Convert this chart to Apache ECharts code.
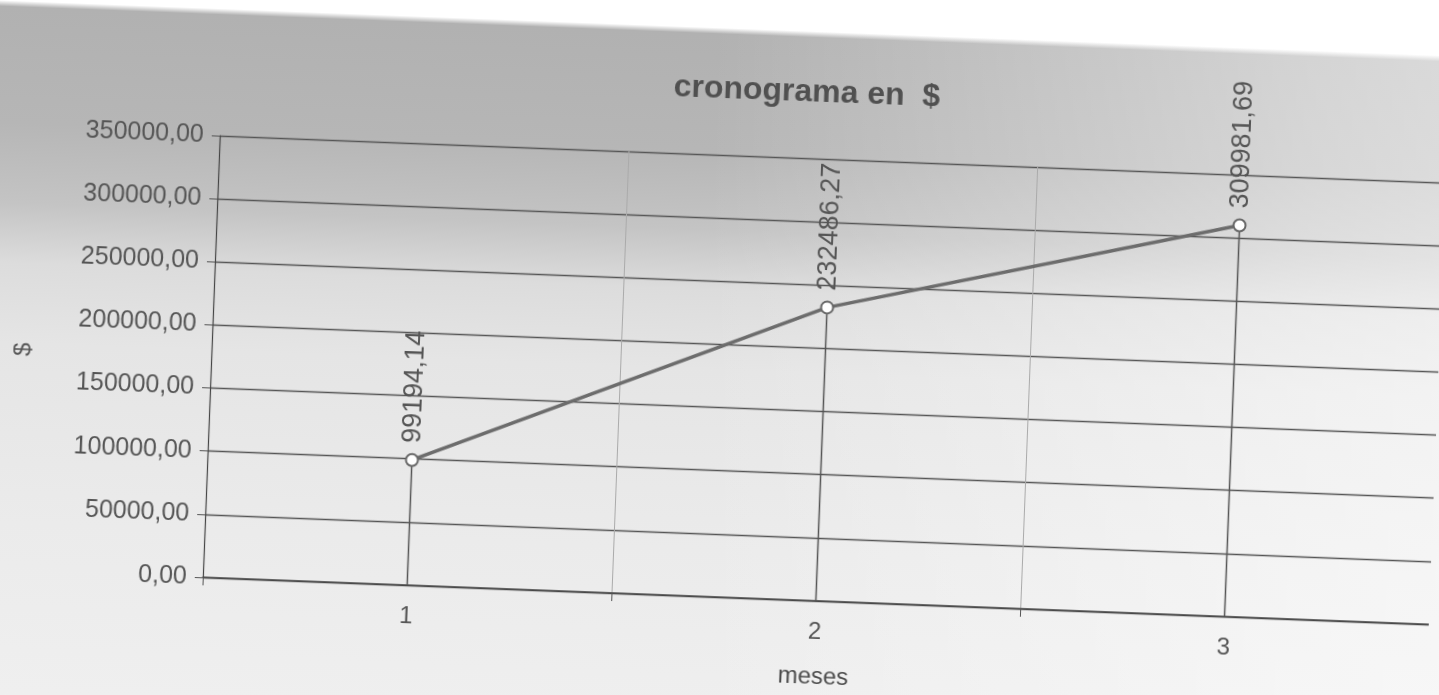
<!DOCTYPE html>
<html>
<head>
<meta charset="utf-8">
<script src="https://cdn.jsdelivr.net/npm/echarts@6/dist/echarts.min.js"></script>
<style>
    html, body { margin: 0; padding: 0; width: 1439px; height: 695px; overflow: hidden; background: #ffffff; }
    #fondo {
        position: absolute; left: -150px; top: -150px; width: 1739px; height: 995px;
        transform: rotate(2.2deg);
        background:
            linear-gradient(to right, rgba(255,255,255,0) 0px, rgba(255,255,255,0) 850px, rgba(255,255,255,0.45) 1450px, rgba(255,255,255,0.6) 1739px),
            linear-gradient(to bottom, #ffffff 0px, #ffffff 178px, #b1b1b1 184px, #b6b6b6 300px, #c4c4c4 380px, #dcdcdc 440px, #e5e5e5 520px, #ebebeb 700px, #f2f2f2 995px);
    }
    #chart { position: absolute; left: 0; top: 0; width: 1439px; height: 695px; transform: rotate(2.2deg); }
</style>
</head>
<body>
<div id="fondo"></div>
<div id="chart"></div>
<script>
var meses = ['1', '2', '3'];
var montos = [99194.14, 232486.27, 309981.69];
var titulo = 'cronograma en  $';

function coma(v) {
    return Number(v).toFixed(2).replace('.', ',');
}

var fuente = "'Liberation Sans', Arial, sans-serif";
var myChart = echarts.init(document.getElementById('chart'));
var option = {
    backgroundColor: 'transparent',
    textStyle: { fontFamily: fuente },
    title: {
        text: titulo,
        left: 792,
        top: 68,
        textAlign: 'center',
        textStyle: { fontSize: 32, fontWeight: 'bold', color: '#505050', fontFamily: fuente }
    },
    grid: { left: 212, right: -7, top: 155, bottom: 98 },
    xAxis: {
        type: 'category',
        data: meses,
        boundaryGap: true,
        name: 'meses',
        nameLocation: 'middle',
        nameGap: 64,
        nameTextStyle: { fontSize: 24, color: '#4c4c4c', fontFamily: fuente },
        axisLine: { show: true, lineStyle: { color: '#444', width: 1.5 } },
        axisTick: { show: true, length: 8, lineStyle: { color: '#555' } },
        axisLabel: { fontSize: 24, color: '#555', margin: 19 },
        splitLine: { show: true, lineStyle: { color: '#aaa', width: 1 } }
    },
    yAxis: {
        type: 'value',
        min: 0,
        max: 350000,
        interval: 50000,
        name: '$',
        nameLocation: 'middle',
        nameGap: 176,
        nameTextStyle: { fontSize: 24, color: '#555', fontFamily: fuente },
        axisLine: { show: true, lineStyle: { color: '#444', width: 1.2 } },
        axisTick: { show: true, length: 8, lineStyle: { color: '#555' } },
        axisLabel: { fontSize: 25, color: '#555', margin: 16, formatter: coma },
        splitLine: { show: true, lineStyle: { color: '#555', width: 1.3 } }
    },
    series: [
        {
            // lineas de caida hasta el eje
            type: 'bar',
            data: montos,
            barWidth: 1.5,
            silent: true,
            z: 1,
            itemStyle: { color: '#555' }
        },
        {
            type: 'line',
            data: montos,
            z: 3,
            symbol: 'emptyCircle',
            symbolSize: 12,
            lineStyle: { color: '#6c6c6c', width: 3.5 },
            itemStyle: { color: '#666', borderColor: '#666', borderWidth: 2 },
            label: {
                show: true,
                position: 'top',
                rotate: 90,
                distance: 10,
                align: 'left',
                verticalAlign: 'middle',
                fontSize: 27,
                color: '#555',
                formatter: function (p) { return coma(p.value); }
            }
        }
    ]
};
myChart.setOption(option);
</script>
</body>
</html>
